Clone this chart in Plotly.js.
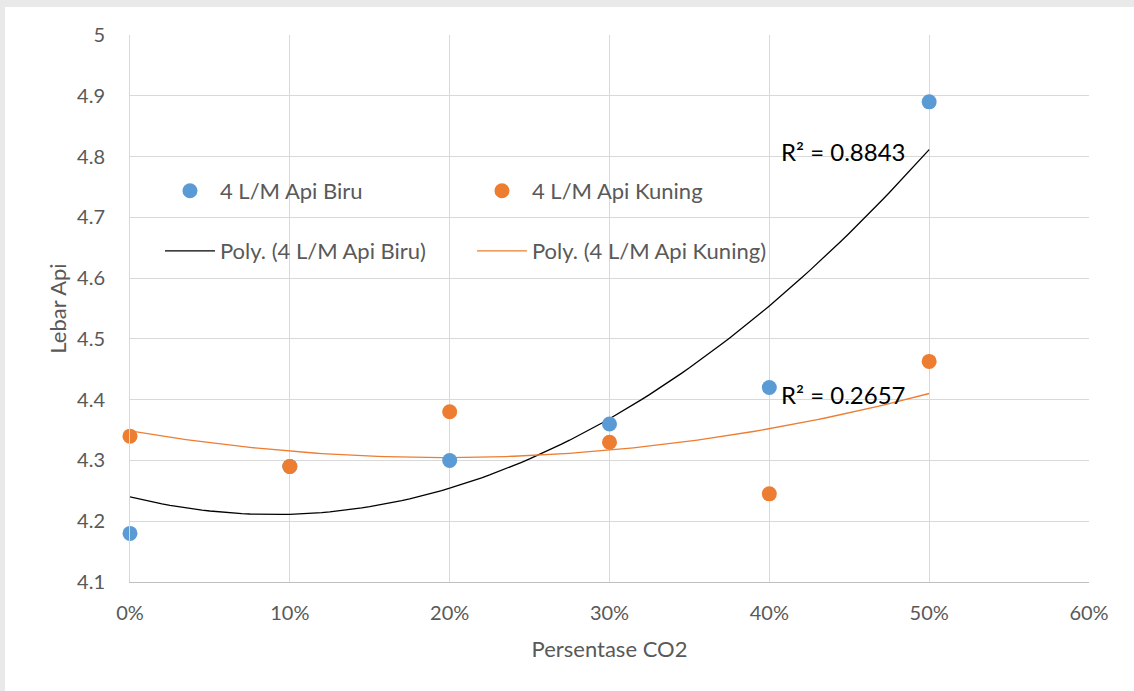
<!DOCTYPE html>
<html>
<head>
<meta charset="utf-8">
<script src="https://cdn.plot.ly/plotly-3.0.1.min.js"></script>
<style>
  html, body { margin: 0; padding: 0; background: #e9e9e9; width: 1134px; height: 691px; overflow: hidden; }
  #chart { position: absolute; left: 5px; top: 7px; width: 1129px; height: 684px; background: #fff; }
</style>
</head>
<body>
<div id="chart"></div>
<script>
// Data
var co2 = [0, 0.1, 0.2, 0.3, 0.4, 0.5];
var apiBiru = [4.18, 4.29, 4.30, 4.36, 4.42, 4.89];
var apiKuning = [4.34, 4.29, 4.38, 4.33, 4.245, 4.463];
var nameBiru = '4 L/M Api Biru';
var nameKuning = '4 L/M Api Kuning';
var r2Biru = 'R² = 0.8843';
var r2Kuning = 'R² = 0.2657';

// Quadratic least-squares trendline (as the spreadsheet's "Poly." trendline)
function polyFit2(xs, ys) {
  var S = [0,0,0,0,0], T = [0,0,0];
  for (var i = 0; i < xs.length; i++) {
    var p = 1;
    for (var k = 0; k < 5; k++) { S[k] += p; if (k < 3) T[k] += p * ys[i]; p *= xs[i]; }
  }
  var A = [[S[0],S[1],S[2],T[0]],[S[1],S[2],S[3],T[1]],[S[2],S[3],S[4],T[2]]];
  for (var c = 0; c < 3; c++) {
    for (var r = c + 1; r < 3; r++) {
      var f = A[r][c] / A[c][c];
      for (var j = c; j < 4; j++) A[r][j] -= f * A[c][j];
    }
  }
  var b = [0,0,0];
  for (var r2 = 2; r2 >= 0; r2--) {
    var s = A[r2][3];
    for (var j2 = r2 + 1; j2 < 3; j2++) s -= A[r2][j2] * b[j2];
    b[r2] = s / A[r2][r2];
  }
  return b;
}
function trend(xs, ys) {
  var b = polyFit2(xs, ys), tx = [], ty = [];
  var x0 = xs[0], x1 = xs[xs.length - 1];
  for (var i = 0; i <= 100; i++) {
    var x = x0 + (x1 - x0) * i / 100;
    tx.push(x); ty.push(b[0] + b[1] * x + b[2] * x * x);
  }
  return {x: tx, y: ty};
}
var tB = trend(co2, apiBiru), tK = trend(co2, apiKuning);

var FONT = 'Lato, "Open Sans", "DejaVu Sans", sans-serif';
var BLUE = '#5b9bd5', ORANGE = '#ed7d31';

var traces = [
  {x: tB.x, y: tB.y, mode: 'lines', name: 'Poly. (' + nameBiru + ')', line: {color: '#000000', width: 1.3}, legend: 'legend2', hoverinfo: 'skip'},
  {x: tK.x, y: tK.y, mode: 'lines', name: 'Poly. (' + nameKuning + ')', line: {color: ORANGE, width: 1.3}, legend: 'legend2', hoverinfo: 'skip'},
  {x: co2, y: apiBiru, mode: 'markers', name: nameBiru, marker: {color: BLUE, size: 15}, cliponaxis: false, legend: 'legend'},
  {x: co2, y: apiKuning, mode: 'markers', name: nameKuning, marker: {color: ORANGE, size: 15}, cliponaxis: false, legend: 'legend'}
];

var layout = {
  width: 1129, height: 684,
  margin: {l: 125, r: 45, t: 28, b: 109},
  paper_bgcolor: '#ffffff', plot_bgcolor: '#ffffff',
  font: {family: FONT, color: '#595959', size: 20},
  showlegend: true,
  xaxis: {
    range: [0, 0.6], dtick: 0.1, tick0: 0, tickformat: '.0%',
    showgrid: true, gridcolor: '#d9d9d9', gridwidth: 1,
    showline: true, linecolor: '#bfbfbf', linewidth: 1, mirror: false,
    zeroline: false, ticks: '', ticklabelstandoff: 13,
    tickfont: {size: 20, color: '#595959'},
    title: {text: 'Persentase CO2', font: {size: 22, color: '#595959'}, standoff: 18}
  },
  yaxis: {
    range: [4.1, 5.0], dtick: 0.1, tick0: 4.1,
    showgrid: true, gridcolor: '#d9d9d9', gridwidth: 1,
    showline: true, linecolor: '#d9d9d9', linewidth: 1,
    zeroline: false, ticks: '', ticklabelstandoff: 20,
    tickfont: {size: 20, color: '#595959'},
    title: {text: 'Lebar Api', font: {size: 22, color: '#595959'}, standoff: 4}
  },
  legend: {
    orientation: 'h', x: 0.03125, y: 0.715, xanchor: 'left', yanchor: 'middle',
    bgcolor: 'rgba(0,0,0,0)', entrywidth: 247, entrywidthmode: 'pixels', itemwidth: 50,
    font: {family: FONT, size: 22, color: '#595959'}, traceorder: 'normal'
  },
  legend2: {
    orientation: 'h', x: 0.03125, y: 0.605, xanchor: 'left', yanchor: 'middle',
    bgcolor: 'rgba(0,0,0,0)', entrywidth: 247, entrywidthmode: 'pixels', itemwidth: 50,
    font: {family: FONT, size: 22, color: '#595959'}, traceorder: 'normal'
  },
  annotations: [
    {x: 0.406, y: 4.809, xref: 'x', yref: 'y', text: r2Biru, showarrow: false, xanchor: 'left', yanchor: 'middle', font: {family: FONT, size: 24, color: '#000000'}},
    {x: 0.406, y: 4.409, xref: 'x', yref: 'y', text: r2Kuning, showarrow: false, xanchor: 'left', yanchor: 'middle', font: {family: FONT, size: 24, color: '#000000'}}
  ]
};

Plotly.newPlot('chart', traces, layout, {displayModeBar: false, staticPlot: true});
</script>
</body>
</html>
